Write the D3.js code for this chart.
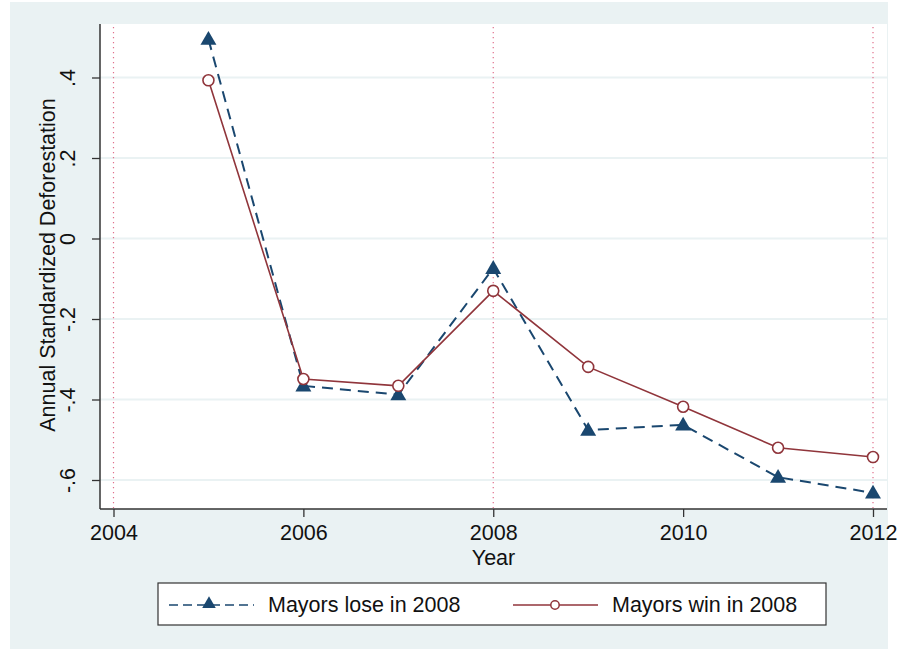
<!DOCTYPE html>
<html>
<head>
<meta charset="utf-8">
<script src="https://cdn.jsdelivr.net/npm/d3@7"></script>
<style>
  body { margin: 0; background: #ffffff; }
  text { font-family: "Liberation Sans", Arial, Helvetica, sans-serif; fill: #111; }
</style>
</head>
<body>
<div id="chart"></div>
<script>
// data
var years = [2005, 2006, 2007, 2008, 2009, 2010, 2011, 2012];
var loseVals = [0.495, -0.366, -0.388, -0.074, -0.476, -0.463, -0.593, -0.632];
var winVals = [0.393, -0.349, -0.366, -0.130, -0.319, -0.418, -0.520, -0.543];
var xTicks = [2004, 2006, 2008, 2010, 2012];
var yTicks = [0.4, 0.2, 0, -0.2, -0.4, -0.6];
var yTickLabels = [".4", ".2", "0", "-.2", "-.4", "-.6"];
var refYears = [2004, 2008, 2012];
var seriesNames = ["Mayors lose in 2008", "Mayors win in 2008"];

var width = 899, height = 649;
var plotL = 100, plotR = 887, plotT = 24, plotB = 509;
var fs = 21.5;

var svg = d3.select("#chart").append("svg")
    .attr("width", width)
    .attr("height", height);

// graph region
svg.append("rect")
    .attr("x", 10).attr("y", 2)
    .attr("width", 878).attr("height", 647)
    .attr("fill", "#eaf2f3");

svg.append("rect")
    .attr("x", plotL).attr("y", plotT)
    .attr("width", plotR - plotL).attr("height", plotB - plotT)
    .attr("fill", "#ffffff");

var x = d3.scaleLinear().domain([2004, 2012]).range([113.5, 873]);
var y = d3.scaleLinear().domain([0, 0.4]).range([238.5, 77.5]);

// gridlines
svg.selectAll("line.grid")
    .data(yTicks)
    .enter()
    .append("line")
    .attr("class", "grid")
    .attr("x1", plotL).attr("x2", plotR)
    .attr("y1", function(d) { return y(d); })
    .attr("y2", function(d) { return y(d); })
    .attr("stroke", "#eaf2f3")
    .attr("stroke-width", 2);

// reference lines
svg.selectAll("line.ref")
    .data(refYears)
    .enter()
    .append("line")
    .attr("class", "ref")
    .attr("x1", function(d) { return x(d); })
    .attr("x2", function(d) { return x(d); })
    .attr("y1", plotT + 3).attr("y2", plotB - 1)
    .attr("stroke", "#e0708c")
    .attr("stroke-width", 1.2)
    .attr("stroke-dasharray", "1.2,3.8");

// axes
var yAxis = d3.axisLeft(y)
    .tickValues(yTicks)
    .tickFormat(function(d, i) { return yTickLabels[i]; })
    .tickSize(8)
    .tickSizeOuter(0);

var gy = svg.append("g")
    .attr("transform", "translate(" + plotL + ",0)")
    .call(yAxis);
gy.select(".domain").attr("d", "M0," + plotT + "V" + plotB)
    .attr("stroke", "#333").attr("stroke-width", 1.5);
gy.selectAll(".tick line").attr("stroke", "#333").attr("stroke-width", 1.3);
gy.selectAll(".tick text")
    .attr("x", null).attr("dy", null)
    .attr("transform", "translate(-25,0) rotate(-90)")
    .attr("text-anchor", "middle")
    .attr("font-size", fs)
    .attr("font-family", "Liberation Sans, Arial, sans-serif")
    .attr("fill", "#111");

var xAxis = d3.axisBottom(x)
    .tickValues(xTicks)
    .tickFormat(d3.format("d"))
    .tickSize(8)
    .tickSizeOuter(0);

var gx = svg.append("g")
    .attr("transform", "translate(0," + plotB + ")")
    .call(xAxis);
gx.select(".domain").attr("d", "M" + plotL + ",0H" + plotR)
    .attr("stroke", "#333").attr("stroke-width", 1.5);
gx.selectAll(".tick line").attr("stroke", "#333").attr("stroke-width", 1.3);
gx.selectAll(".tick text")
    .attr("y", 31).attr("dy", null)
    .attr("font-size", fs)
    .attr("font-family", "Liberation Sans, Arial, sans-serif")
    .attr("fill", "#111");

// axis titles
svg.append("text")
    .attr("x", (plotL + plotR) / 2)
    .attr("y", 565)
    .attr("text-anchor", "middle")
    .attr("font-size", fs)
    .text("Year");

svg.append("text")
    .attr("transform", "translate(55,265) rotate(-90)")
    .attr("text-anchor", "middle")
    .attr("font-size", fs)
    .text("Annual Standardized Deforestation");

// series
var line = d3.line()
    .x(function(d) { return x(d[0]); })
    .y(function(d) { return y(d[1]); });

var loseData = years.map(function(yr, i) { return [yr, loseVals[i]]; });
var winData = years.map(function(yr, i) { return [yr, winVals[i]]; });

var navy = "#1a476f", maroon = "#90353b";
var tri = d3.symbol().type(d3.symbolTriangle).size(110);

svg.append("path")
    .datum(loseData)
    .attr("d", line)
    .attr("fill", "none")
    .attr("stroke", navy)
    .attr("stroke-width", 2)
    .attr("stroke-dasharray", "11,7");

svg.append("path")
    .datum(winData)
    .attr("d", line)
    .attr("fill", "none")
    .attr("stroke", maroon)
    .attr("stroke-width", 1.6);

svg.selectAll("path.tri")
    .data(loseData)
    .enter()
    .append("path")
    .attr("class", "tri")
    .attr("d", tri)
    .attr("transform", function(d) { return "translate(" + x(d[0]) + "," + (y(d[1]) + 1) + ")"; })
    .attr("fill", navy);

svg.selectAll("circle.win")
    .data(winData)
    .enter()
    .append("circle")
    .attr("class", "win")
    .attr("cx", function(d) { return x(d[0]); })
    .attr("cy", function(d) { return y(d[1]); })
    .attr("r", 5.5)
    .attr("fill", "#ffffff")
    .attr("stroke", maroon)
    .attr("stroke-width", 1.6);

// legend
var lg = svg.append("g");
lg.append("rect")
    .attr("x", 158).attr("y", 583)
    .attr("width", 668).attr("height", 42)
    .attr("fill", "#ffffff")
    .attr("stroke", "#333")
    .attr("stroke-width", 1.2);

var ly = 605;
lg.append("line")
    .attr("x1", 169).attr("x2", 254)
    .attr("y1", ly).attr("y2", ly)
    .attr("stroke", navy).attr("stroke-width", 1.6)
    .attr("stroke-dasharray", "9,5");
lg.append("path")
    .attr("d", d3.symbol().type(d3.symbolTriangle).size(80))
    .attr("transform", "translate(209," + (ly - 1) + ")")
    .attr("fill", navy);
lg.append("text")
    .attr("x", 268).attr("y", ly + 7)
    .attr("font-size", fs)
    .text(seriesNames[0]);

lg.append("line")
    .attr("x1", 513).attr("x2", 598)
    .attr("y1", ly).attr("y2", ly)
    .attr("stroke", maroon).attr("stroke-width", 1.6);
lg.append("circle")
    .attr("cx", 555).attr("cy", ly)
    .attr("r", 4.2)
    .attr("fill", "#ffffff")
    .attr("stroke", maroon).attr("stroke-width", 1.5);
lg.append("text")
    .attr("x", 612).attr("y", ly + 7)
    .attr("font-size", fs)
    .text(seriesNames[1]);
</script>
</body>
</html>
